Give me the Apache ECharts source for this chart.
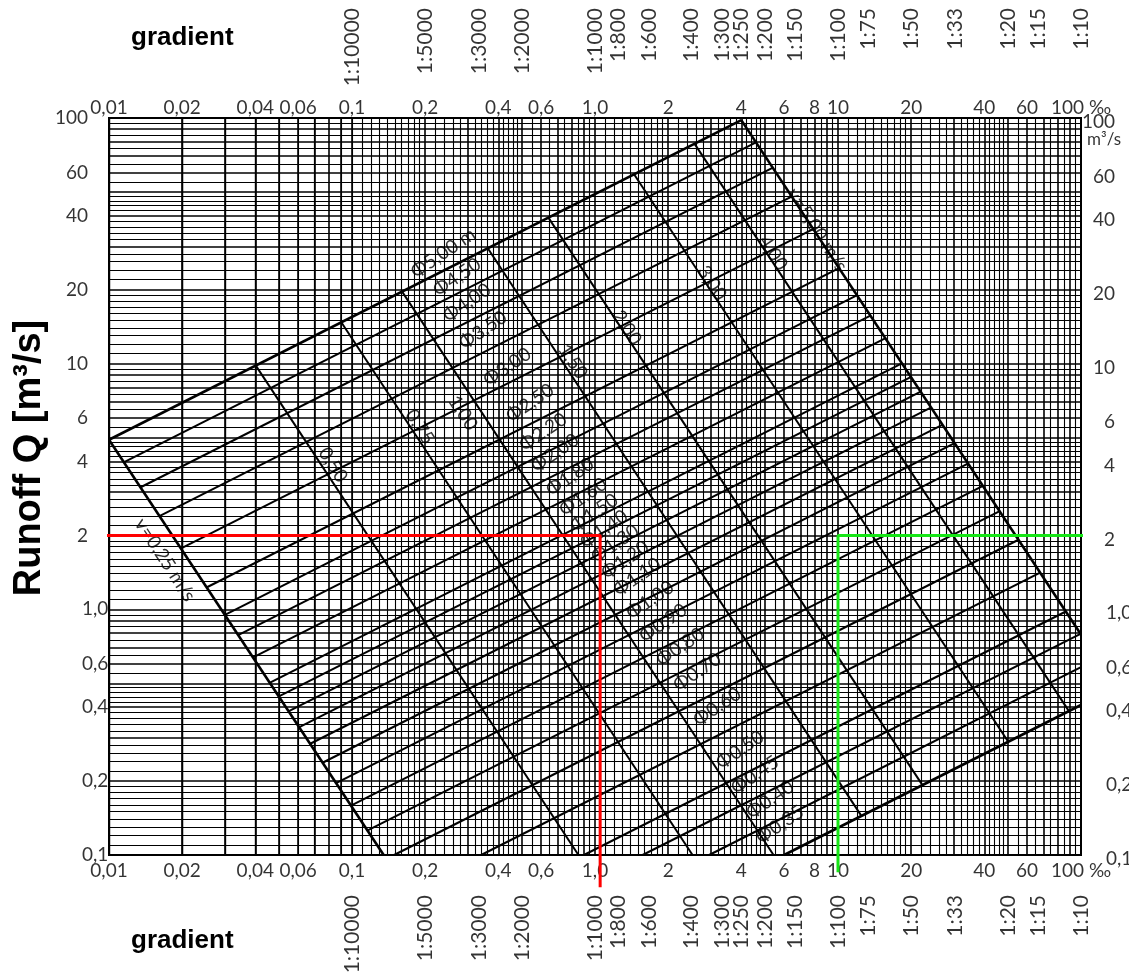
<!DOCTYPE html>
<html>
<head>
<meta charset="utf-8">
<script src="https://cdn.jsdelivr.net/npm/echarts@6/dist/echarts.min.js"></script>
<style>
  html, body { margin: 0; padding: 0; background: #ffffff; }
  #chart { width: 1129px; height: 973px; }
</style>
</head>
<body>
<div id="chart"></div>
<script>
// ---- scales ----------------------------------------------------------------
// gradient in per mille, labelled along top and bottom edges
const slopeTicks = [0.01, 0.02, 0.04, 0.06, 0.1, 0.2, 0.4, 0.6, 1, 2, 4, 6, 8, 10, 20, 40, 60, 100];
const slopeTickLabels = ['0,01', '0,02', '0,04', '0,06', '0,1', '0,2', '0,4', '0,6', '1,0', '2', '4', '6', '8', '10', '20', '40', '60', '100 ‰'];
// gradient as ratio 1:N
const gradientRatios = [10000, 5000, 3000, 2000, 1000, 800, 600, 400, 300, 250, 200, 150, 100, 75, 50, 33, 20, 15, 10];
// runoff Q in m³/s, labelled along left and right edges
const runoffTicks = [100, 60, 40, 20, 10, 6, 4, 2, 1, 0.6, 0.4, 0.2, 0.1];
const runoffTickLabels = ['100', '60', '40', '20', '10', '6', '4', '2', '1,0', '0,6', '0,4', '0,2', '0,1'];

// ---- pipe diameter lines (full flow) ----------------------------------------
const diameterNames = ['Φ5,00 m', 'Φ4,50', 'Φ4,00', 'Φ3,50', 'Φ3,00', 'Φ2,50', 'Φ2,20', 'Φ2,00', 'Φ1,80', 'Φ1,60',
  'Φ1,50', 'Φ1,40', 'Φ1,30', 'Φ1,20', 'Φ1,10', 'Φ1,00', 'Φ0,90', 'Φ0,80', 'Φ0,70', 'Φ0,60', 'Φ0,50', 'Φ0,45', 'Φ0,40', 'Φ0,35'];
// [gradient start, Q start, gradient end, Q end]
const diameterLines = [
  [0.01, 4.9, 4.0, 98], [0.0116, 3.98, 4.6, 79.5], [0.0135, 3.14, 5.4, 62.8], [0.0162, 2.40, 6.5, 48.1],
  [0.0198, 1.77, 7.9, 35.3], [0.0253, 1.23, 10.1, 24.5], [0.030, 0.95, 12.0, 19.0], [0.034, 0.785, 13.6, 15.7],
  [0.039, 0.636, 15.7, 12.7], [0.046, 0.503, 18.4, 10.05], [0.050, 0.442, 20.0, 8.84], [0.055, 0.385, 21.9, 7.70],
  [0.061, 0.332, 24.2, 6.64], [0.067, 0.283, 27.0, 5.65], [0.076, 0.238, 30.2, 4.75], [0.086, 0.196, 34.4, 3.93],
  [0.099, 0.159, 39.5, 3.18], [0.116, 0.126, 46.3, 2.51], [0.149, 0.10, 55.3, 1.92], [0.34, 0.10, 67.9, 1.41],
  [0.90, 0.10, 86.6, 0.98], [1.57, 0.10, 100, 0.797], [2.95, 0.10, 100, 0.582], [6.0, 0.10, 100, 0.408]
];
const diameterLabelAt = [
  [0.237, 28.2], [0.270, 22.5], [0.297, 17.7], [0.346, 13.7], [0.435, 9.70], [0.540, 6.92], [0.611, 5.27],
  [0.684, 4.33], [0.789, 3.46], [0.893, 2.87], [0.991, 2.47], [1.089, 2.12], [1.208, 1.85], [1.329, 1.59],
  [1.489, 1.355], [1.684, 1.09], [1.905, 0.880], [2.239, 0.703], [2.63, 0.556], [3.18, 0.401], [3.95, 0.268],
  [4.55, 0.212], [5.25, 0.168], [5.77, 0.133]
];

// ---- flow velocity lines ----------------------------------------------------
const velocityNames = ['v=0,25 m/s', '0,50', '0,75', '1,00', '1,50', '2,00', '3,00', '4,00', 'v=5,00 m/s'];
const velocityLines = [
  [0.01, 4.9, 0.135, 0.10], [0.0402, 9.82, 0.855, 0.10], [0.0905, 14.7, 2.52, 0.10], [0.161, 19.6, 5.43, 0.10],
  [0.362, 29.5, 12.5, 0.144], [0.643, 39.3, 22.3, 0.192], [1.45, 58.9, 50.2, 0.289], [2.57, 78.5, 89.2, 0.385],
  [4.0, 98, 100, 0.79]
];
const velocityLabelAt = [
  [0.017, 1.59], [0.0835, 3.87], [0.19, 5.53], [0.286, 6.30], [0.811, 10.2], [1.355, 14.0], [3.03, 21.3],
  [5.40, 28.2], [8.20, 35.0]
];

// ---- worked examples --------------------------------------------------------
const redGuide = [[0.0094, 2], [1.05, 2], [1.05, 0.074]];
const greenGuide = [[108, 2], [10, 2], [10, 0.085]];

// ---- chart ------------------------------------------------------------------
const chart = echarts.init(document.getElementById('chart'), null, { renderer: 'canvas' });

const NUM_FONT = 'Lato, "Liberation Sans", sans-serif';
const BOLD_FONT = '"Liberation Sans", Arial, sans-serif';

// log-paper rulings: 1–2 step 0.1, 2–5 step 0.2, 5–10 step 0.5
const mantissas = [];
for (let m = 10; m < 20; m += 1) mantissas.push(m / 10);
for (let m = 20; m < 50; m += 2) mantissas.push(m / 10);
for (let m = 50; m < 100; m += 5) mantissas.push(m / 10);
function rulings(fromExp, toExp) {
  const out = [];
  for (let e = fromExp; e < toExp; e++) {
    for (const m of mantissas) out.push({ v: m * Math.pow(10, e), major: Number.isInteger(m) });
  }
  out.push({ v: Math.pow(10, toExp), major: true });
  return out;
}
const ruleLines = [];
rulings(-2, 2).forEach(r => ruleLines.push({ xAxis: r.v, lineStyle: { width: r.major ? 1.6 : 1.1 } }));
rulings(-1, 2).forEach(r => ruleLines.push({ yAxis: r.v, lineStyle: { width: r.major ? 1.6 : 1.1 } }));

function segSeries(seg, width) {
  return {
    type: 'line', silent: true, animation: false, z: 3,
    showSymbol: false, symbol: 'none',
    data: [[seg[0], seg[1]], [seg[2], seg[3]]],
    lineStyle: { color: '#000', width: width }
  };
}

function labelSeries(points, texts, labelOpt, z) {
  return {
    type: 'scatter', silent: true, animation: false, clip: false, z: z || 6,
    symbolSize: 0, itemStyle: { color: 'transparent' },
    data: points.map((p, i) => ({ value: p, label: { formatter: texts[i] } })),
    label: Object.assign({ show: true, color: '#000', fontFamily: NUM_FONT, fontSize: 19 }, labelOpt)
  };
}

const series = [];

// paper rulings
series.push({
  type: 'line', silent: true, animation: false, z: 1, data: [[0.01, 0.1]], showSymbol: false,
  lineStyle: { opacity: 0 },
  markLine: {
    silent: true, animation: false, z: 1, symbol: ['none', 'none'], label: { show: false },
    lineStyle: { color: '#000', type: 'solid', width: 1 },
    emphasis: { disabled: true },
    data: ruleLines
  }
});

// nomogram lines
diameterLines.forEach((seg, i) => series.push(segSeries(seg, (i === 0 || i === diameterLines.length - 1) ? 2.6 : 2)));
velocityLines.forEach((seg, i) => series.push(segSeries(seg, (i === 0 || i === velocityLines.length - 1) ? 2.6 : 2)));

// line captions
series.push(labelSeries(diameterLabelAt, diameterNames, { position: 'inside', rotate: 34, fontSize: 19 }));
series.push(labelSeries(velocityLabelAt, velocityNames, { position: 'inside', rotate: -57, fontSize: 19 }));

// gradient ‰ labels, top and bottom
series.push(labelSeries(slopeTicks.map(v => [v, 100]), slopeTickLabels, { position: 'top', distance: 1 }));
series.push(labelSeries(slopeTicks.map(v => [v, 0.1]), slopeTickLabels, { position: 'bottom', distance: 6 }));

// gradient 1:N labels, top and bottom (1:N equals 1000/N per mille);
// the offset is given in the label's rotated frame
const gradientSlopes = gradientRatios.map(n => 1000 / n);
const gradientTexts = gradientRatios.map(n => '1:' + n);
const gradLabel = { position: 'inside', rotate: 90, align: 'right', verticalAlign: 'middle', fontSize: 21 };
series.push(labelSeries(gradientSlopes.map(v => [v, 100]), gradientTexts, Object.assign({ offset: [110, 0] }, gradLabel)));
series.push(labelSeries(gradientSlopes.map(v => [v, 0.1]), gradientTexts, Object.assign({ offset: [-40, 0] }, gradLabel)));

// runoff labels: whole numbers end at the units column, decimals start at it
const intIdx = [], decIdx = [];
runoffTickLabels.forEach((t, i) => (t.indexOf(',') >= 0 ? decIdx : intIdx).push(i));
const pick = (arr, idx) => idx.map(i => arr[i]);
series.push(labelSeries(pick(runoffTicks, intIdx).map(v => [0.01, v]), pick(runoffTickLabels, intIdx),
  { position: 'inside', align: 'right', verticalAlign: 'middle', offset: [-21, 0] }));
series.push(labelSeries(pick(runoffTicks, decIdx).map(v => [0.01, v]), pick(runoffTickLabels, decIdx),
  { position: 'inside', align: 'left', verticalAlign: 'middle', offset: [-27, 0] }));
series.push(labelSeries(pick(runoffTicks, intIdx).map(v => [100, v]), pick(runoffTickLabels, intIdx),
  { position: 'inside', align: 'right', verticalAlign: 'middle', offset: [34, 4] }));
series.push(labelSeries(pick(runoffTicks, decIdx).map(v => [100, v]), pick(runoffTickLabels, decIdx),
  { position: 'inside', align: 'left', verticalAlign: 'middle', offset: [25, 4] }));
series.push(labelSeries([[100, 100]], ['m³/s'], { position: 'inside', align: 'left', verticalAlign: 'middle', offset: [6, 22], fontSize: 17 }));

// worked examples
function guideSeries(points, color) {
  return {
    type: 'line', silent: true, animation: false, clip: false, z: 10,
    showSymbol: false, symbol: 'none', data: points,
    lineStyle: { color: color, width: 3 }
  };
}
series.push(guideSeries(redGuide, '#ff0000'));
series.push(guideSeries(greenGuide, '#16e616'));

const logAxis = (min, max) => ({
  type: 'log', logBase: 10, min: min, max: max,
  axisLine: { show: false }, axisTick: { show: false }, axisLabel: { show: false },
  splitLine: { show: false }, minorSplitLine: { show: false }
});

chart.setOption({
  backgroundColor: '#ffffff',
  animation: false,
  grid: { left: 109, top: 118, width: 972, height: 737, show: true, borderColor: '#000', borderWidth: 2, backgroundColor: 'transparent' },
  xAxis: logAxis(0.01, 100),
  yAxis: logAxis(0.1, 100),
  graphic: [
    { type: 'text', left: 131, top: 25, style: { text: 'gradient', font: 'bold 26px ' + BOLD_FONT, fill: '#000' } },
    { type: 'text', left: 131, top: 928, style: { text: 'gradient', font: 'bold 26px ' + BOLD_FONT, fill: '#000' } },
    { type: 'text', x: 30, y: 458, rotation: Math.PI / 2,
      style: { text: 'Runoff Q [m³/s]', font: 'bold 38px ' + BOLD_FONT, fill: '#000', align: 'center', verticalAlign: 'middle' } }
  ],
  series: series
});
</script>
</body>
</html>
